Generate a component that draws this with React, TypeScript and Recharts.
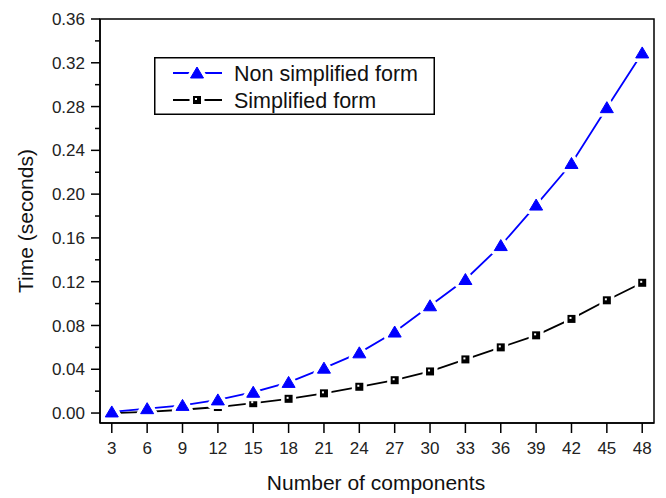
import React from 'react';
import {
  LineChart,
  Line,
  XAxis,
  YAxis,
  ReferenceArea,
  Legend,
  Label,
} from 'recharts';

const components = [3, 6, 9, 12, 15, 18, 21, 24, 27, 30, 33, 36, 39, 42, 45, 48];
const nonSimplified = [0.001, 0.004, 0.007, 0.012, 0.019, 0.028, 0.041, 0.055, 0.074, 0.098, 0.122, 0.153, 0.190, 0.228, 0.279, 0.329];
const simplified = [0.000, 0.001, 0.003, 0.0055, 0.009, 0.013, 0.018, 0.024, 0.030, 0.038, 0.049, 0.060, 0.071, 0.086, 0.103, 0.119];
const yTicks = [0, 0.02, 0.04, 0.06, 0.08, 0.1, 0.12, 0.14, 0.16, 0.18, 0.2, 0.22, 0.24, 0.26, 0.28, 0.3, 0.32, 0.34, 0.36];
const xTicks = components;
const legendOrder = ['nonSimplified', 'simplified'];

const Y_MIN = -0.0091;
const Y_MAX = 0.36;
const X_MIN = 2;
const X_MAX = 49;

const FONT = '"Liberation Sans", Arial, Helvetica, sans-serif';
const BLUE = '#0000ff';

const data = components.map((n, i) => ({
  n,
  nonSimplified: nonSimplified[i],
  simplified: simplified[i],
}));

// white halo under each marker gives the Origin-style gap in the line
const Triangle = ({ cx, cy }: { cx: number; cy: number }) => {
  const pts = `${cx},${cy - 6} ${cx - 6.5},${cy + 5} ${cx + 6.5},${cy + 5}`;
  return (
    <g>
      <polygon points={pts} fill="#fff" stroke="#fff" strokeWidth={8} strokeLinejoin="round" />
      <polygon points={pts} fill={BLUE} stroke={BLUE} strokeWidth={1} />
    </g>
  );
};

const Square = ({ cx, cy }: { cx: number; cy: number }) => (
  <g>
    <rect x={cx - 7.5} y={cy - 7.5} width={15} height={15} fill="#fff" />
    <rect x={cx - 4} y={cy - 4} width={8} height={8} fill="#000" />
    <rect x={cx - 2} y={cy - 2} width={2} height={2} fill="#fff" />
  </g>
);

const triangleDot = (props: any) => (
  <g key={`tri-${props.index}`}>
    <Triangle cx={props.cx} cy={props.cy} />
  </g>
);

const squareDot = (props: any) => (
  <g key={`sq-${props.index}`}>
    <Square cx={props.cx} cy={props.cy} />
  </g>
);

const YTick = ({ x, y, payload }: any) => {
  const major = Math.round(payload.value * 100) % 4 === 0;
  return (
    <g>
      <line x1={x - (major ? 9 : 5)} x2={x} y1={y} y2={y} stroke="#000" strokeWidth={1.5} />
      {major && (
        <text x={x - 15} y={y} dy="0.36em" textAnchor="end" fontSize={17} fontFamily={FONT} fill="#222">
          {payload.value.toFixed(2)}
        </text>
      )}
    </g>
  );
};

const XTick = ({ x, y, payload }: any) => (
  <g>
    <line x1={x} x2={x} y1={y} y2={y + 10} stroke="#000" strokeWidth={1.5} />
    <text x={x} y={y + 31} textAnchor="middle" fontSize={17} fontFamily={FONT} fill="#222">
      {payload.value}
    </text>
  </g>
);

const renderLegend = (props: any) => {
  const items = [...(props.payload || [])].sort(
    (a: any, b: any) => legendOrder.indexOf(a.dataKey) - legendOrder.indexOf(b.dataKey)
  );
  return (
    <svg width={281} height={58} style={{ display: 'block' }}>
      <rect x={0.75} y={0.75} width={279.5} height={56.5} fill="#fff" stroke="#000" strokeWidth={1.5} />
      {items.map((item: any, i: number) => {
        const cy = 16 + i * 27;
        const color = item.dataKey === 'nonSimplified' ? BLUE : '#000';
        return (
          <g key={item.value}>
            <line x1={19} x2={68} y1={cy} y2={cy} stroke={color} strokeWidth={1.8} />
            {item.dataKey === 'nonSimplified' ? <Triangle cx={43} cy={cy} /> : <Square cx={43} cy={cy} />}
            <text x={80} y={cy + 7.5} fontSize={21.5} fontFamily={FONT} fill="#111">
              {item.value}
            </text>
          </g>
        );
      })}
    </svg>
  );
};

export default function App() {
  return (
    <div style={{ position: 'absolute', left: 0, top: 0, background: '#fff' }}>
      <LineChart
        width={666}
        height={498}
        data={data}
        margin={{ top: 19, right: 12, left: 0, bottom: 45 }}
      >
        <XAxis
          dataKey="n"
          type="number"
          domain={[X_MIN, X_MAX]}
          ticks={xTicks}
          interval={0}
          tickSize={0}
          tickMargin={0}
          tickLine={false}
          tick={<XTick />}
          height={30}
          axisLine={{ stroke: '#000', strokeWidth: 1.5 }}
        >
          <Label
            content={() => (
              <text x={376} y={490} textAnchor="middle" fontSize={21} fontFamily={FONT} fill="#111">
                Number of components
              </text>
            )}
          />
        </XAxis>
        <YAxis
          type="number"
          domain={[Y_MIN, Y_MAX]}
          ticks={yTicks}
          interval={0}
          tickSize={0}
          tickMargin={0}
          tickLine={false}
          tick={<YTick />}
          width={100}
          axisLine={{ stroke: '#000', strokeWidth: 1.5 }}
        >
          <Label
            content={() => (
              <text
                x={33}
                y={221}
                transform="rotate(-90 33 221)"
                textAnchor="middle"
                fontSize={21}
                fontFamily={FONT}
                fill="#111"
              >
                Time (seconds)
              </text>
            )}
          />
        </YAxis>
        <ReferenceArea
          x1={X_MIN}
          x2={X_MAX}
          y1={Y_MIN}
          y2={Y_MAX}
          fill="none"
          fillOpacity={0}
          stroke="#000"
          strokeWidth={1.5}
        />
        <Line
          dataKey="simplified"
          name="Simplified form"
          stroke="#000"
          strokeWidth={1.8}
          dot={squareDot}
          activeDot={false}
          isAnimationActive={false}
        />
        <Line
          dataKey="nonSimplified"
          name="Non simplified form"
          stroke={BLUE}
          strokeWidth={1.8}
          dot={triangleDot}
          activeDot={false}
          isAnimationActive={false}
        />
        <Legend
          layout="vertical"
          align="center"
          verticalAlign="middle"
          content={renderLegend}
          wrapperStyle={{ left: 154, top: 57, width: 281, height: 58 }}
        />
      </LineChart>
    </div>
  );
}
